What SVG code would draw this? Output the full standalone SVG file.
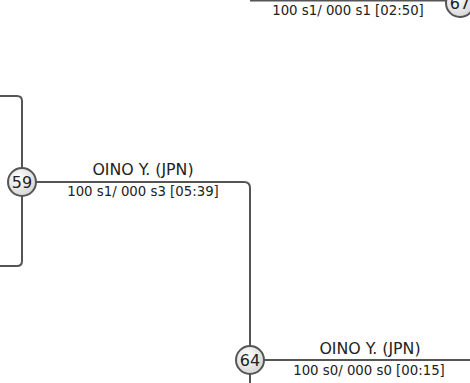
<svg xmlns="http://www.w3.org/2000/svg" width="470" height="383" viewBox="0 0 470 383">
<defs>
<radialGradient id="g" cx="0.4" cy="0.35" r="0.7">
<stop offset="0" stop-color="#ffffff"/>
<stop offset="1" stop-color="#d4d4d4"/>
</radialGradient>
<style>
.ln{fill:none;stroke:#555;stroke-width:2}
.c{fill:url(#g);stroke:#555;stroke-width:2}
.n{font-family:"DejaVu Sans",sans-serif;font-size:16px;fill:#222;text-anchor:middle}
.m{font-family:"DejaVu Sans",sans-serif;font-size:15.8px;fill:#222;text-anchor:middle}
.s{font-family:"DejaVu Sans",sans-serif;font-size:13.3px;fill:#222;text-anchor:middle}
</style>
</defs>
<rect width="470" height="383" fill="#fff"/>
<g id="connectors">
<path class="ln" d="M0,96 H17 Q22,96 22,101 V261 Q22,266 17,266 H0"/>
<path class="ln" d="M22,182 H244 Q250,182 250,188 V383"/>
<path class="ln" d="M250,360 H470"/>
<path class="ln" d="M250,0.5 H450"/>
</g>
<g id="label-top">
<text class="s" x="348" y="15">100 s1/ 000 s1 [02:50]</text>
</g>
<g id="label-59">
<text class="m" x="143" y="175">OINO Y. (JPN)</text>
<text class="s" x="143" y="196">100 s1/ 000 s3 [05:39]</text>
</g>
<g id="label-64">
<text class="m" x="370" y="354">OINO Y. (JPN)</text>
<text class="s" x="369" y="375">100 s0/ 000 s0 [00:15]</text>
</g>
<g id="node-59">
<circle class="c" cx="22" cy="182" r="14"/>
<text class="n" x="22" y="187.8">59</text>
</g>
<g id="node-64">
<circle class="c" cx="250" cy="360" r="14"/>
<text class="n" x="250" y="365.8">64</text>
</g>
<g id="node-67">
<circle class="c" cx="460" cy="3" r="14"/>
<text class="n" x="460" y="8.8">67</text>
</g>
</svg>
